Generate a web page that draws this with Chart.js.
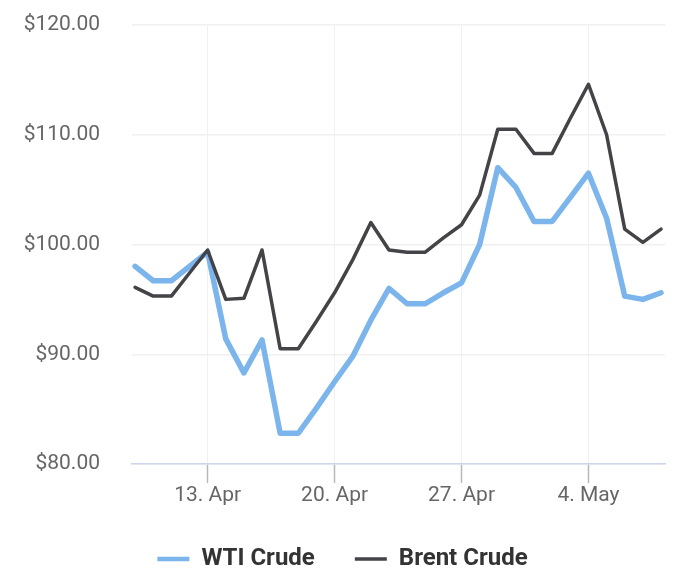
<!DOCTYPE html>
<html>
<head>
<meta charset="utf-8">
<script src="https://cdn.jsdelivr.net/npm/chart.js@4.4.0/dist/chart.umd.min.js"></script>
<style>
html,body{margin:0;padding:0;background:#fff;}
#wrap{width:700px;height:583px;position:relative;}
</style>
</head>
<body>
<div id="wrap"><canvas id="c"></canvas></div>
<script>
// Daily data, 9 Apr 2021 .. 8 May 2021
const dayLabels = ["9. Apr","10. Apr","11. Apr","12. Apr","13. Apr","14. Apr","15. Apr","16. Apr","17. Apr","18. Apr",
  "19. Apr","20. Apr","21. Apr","22. Apr","23. Apr","24. Apr","25. Apr","26. Apr","27. Apr","28. Apr",
  "29. Apr","30. Apr","1. May","2. May","3. May","4. May","5. May","6. May","7. May","8. May"];
const wti = [98.0,96.7,96.7,98.0,99.3,91.4,88.3,91.3,82.8,82.8,
  85.1,87.5,89.8,93.1,96.0,94.6,94.6,95.6,96.5,100.0,
  107.0,105.2,102.1,102.1,104.3,106.5,102.4,95.3,95.0,95.6];
const brent = [96.1,95.3,95.3,97.4,99.5,95.0,95.1,99.5,90.5,90.5,
  93.0,95.6,98.6,102.0,99.5,99.3,99.3,100.6,101.8,104.5,
  110.5,110.5,108.3,108.3,111.5,114.6,110.0,101.4,100.2,101.4];
const xTickLabels = ["13. Apr","20. Apr","27. Apr","4. May"];
const yTicks = [80,90,100,110,120];

const toPts = arr => arr.map((v,i)=>({x:i,y:v}));
const xTickIdx = xTickLabels.map(l => dayLabels.indexOf(l));

Chart.defaults.font.family = "Roboto, 'Noto Sans', sans-serif";

new Chart(document.getElementById('c'), {
  type: 'line',
  data: {
    datasets: [
      {label:'WTI Crude', data: toPts(wti), borderColor:'#7cb5ec', backgroundColor:'#7cb5ec',
       borderWidth:5.5, pointRadius:0, pointHoverRadius:0, tension:0, borderJoinStyle:'round', borderCapStyle:'round', order:1},
      {label:'Brent Crude', data: toPts(brent), borderColor:'#434348', backgroundColor:'#434348',
       borderWidth:3.5, pointRadius:0, pointHoverRadius:0, tension:0, borderJoinStyle:'round', borderCapStyle:'round', order:0}
    ]
  },
  options: {
    responsive:true, maintainAspectRatio:false, animation:false,
    devicePixelRatio:1,
    layout:{padding:{left:20,right:35,top:25,bottom:2}},
    plugins:{
      tooltip:{enabled:false},
      legend:{
        position:'bottom',
        labels:{
          usePointStyle:true, pointStyle:'line', pointStyleWidth:32,
          color:'#333333', font:{size:24, weight:'bold'}, padding:40,
          sort:(a,b)=>a.datasetIndex-b.datasetIndex,
          generateLabels: function(chart){
            return chart.data.datasets.map((ds,i)=>({
              text: ds.label, fillStyle: ds.borderColor, strokeStyle: ds.borderColor,
              lineWidth: i===0?4.5:3.5, pointStyle:'line', datasetIndex:i, hidden:false, fontColor:'#333333'
            }));
          }
        }
      }
    },
    scales:{
      x:{
        type:'linear', min:-0.17, max:29.22,
        afterBuildTicks: s => { s.ticks = xTickIdx.map(v=>({value:v})); },
        afterFit: s => { s.height = 43; },
        ticks:{ color:'#666666', font:{size:21}, padding:0, maxRotation:0, autoSkip:false,
          callback: v => dayLabels[v] },
        grid:{ color:'#f0f0f0', lineWidth:1, tickLength:19, tickColor:'#b8b8b8', tickWidth:1.5 },
        border:{ color:'#ccd6eb', width:1.5 }
      },
      y:{
        min:80, max:120,
        afterBuildTicks: s => { s.ticks = yTicks.map(v=>({value:v})); },
        afterFit: s => { s.width = 112; s.paddingTop = 0; s.paddingBottom = 0; },
        ticks:{ color:'#666666', font:{size:21}, padding:32,
          callback: v => '$' + v.toFixed(2) },
        grid:{ color:'#f0f0f0', lineWidth:1.5, drawTicks:false },
        border:{ display:false }
      }
    }
  }
});
</script>
</body>
</html>
